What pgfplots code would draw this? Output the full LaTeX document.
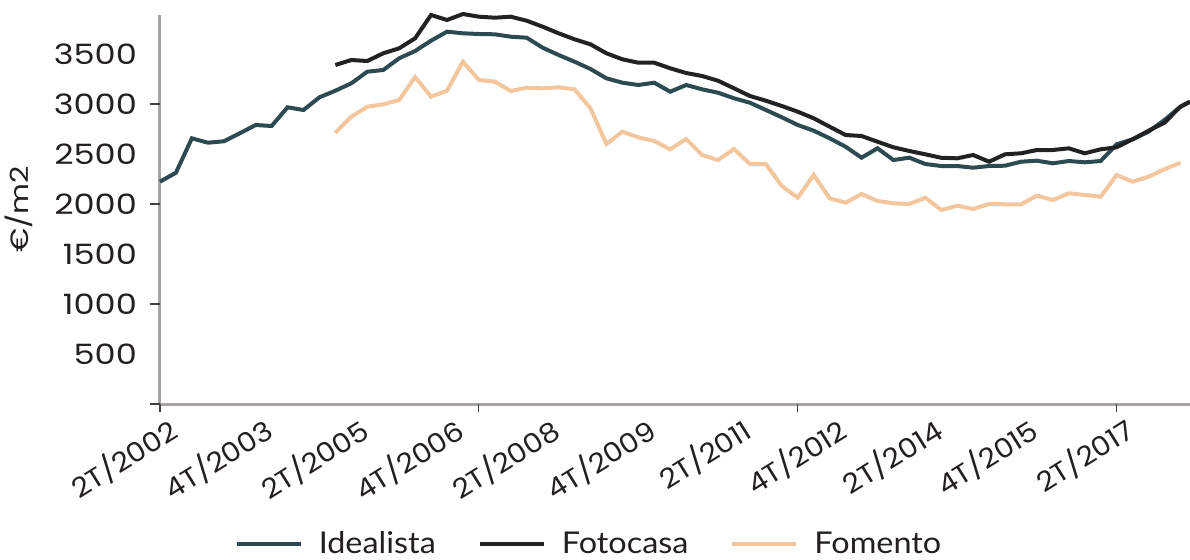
\documentclass[border=0pt]{standalone}
\usepackage{pgfplots}
\pgfplotsset{compat=1.18}
\usepackage{fontspec}
\setmainfont{Poppins}
\newfontfamily\tickfont[FakeStretch=1.2]{Poppins}
\newfontfamily\xtickfont[FakeStretch=1.1]{Poppins}
\newfontfamily\legfont[FakeStretch=1.08]{Lato}
\definecolor{ideal}{HTML}{2D4A52}
\definecolor{foto}{HTML}{222222}
\definecolor{fome}{HTML}{F3C69E}
\definecolor{axisgray}{HTML}{A8A4A2}
\definecolor{txt}{HTML}{231F20}
\begin{document}
\begin{tikzpicture}
\begin{axis}[
  scale only axis,
  width=515pt, height=194.5pt,
  xmin=0, xmax=64.6, ymin=0, ymax=3890,
  clip=false,
  axis x line=bottom, axis y line=left,
  axis line style={draw=axisgray, line width=1.5pt, -},
  tick align=outside,
  /pgf/number format/assume math mode=true,
  xtick={0,6,...,60},
  xticklabels={2T/2002,4T/2003,2T/2005,4T/2006,2T/2008,4T/2009,2T/2011,4T/2012,2T/2014,4T/2015,2T/2017},
  ytick={500,1000,...,3500},
  major tick length=0pt,
  ticklabel style={font=\tickfont\fontsize{14}{16}\selectfont, text=txt},
  yticklabel style={xshift=-8pt},
  x tick label style={rotate=32, anchor=north east, inner sep=1pt, yshift=-5pt, xshift=1pt, font=\xtickfont\fontsize{13.5}{15}\selectfont},
  /pgf/number format/1000 sep={},
  extra x ticks={0,20,40,60},
  extra x tick labels={},
  extra x tick style={major tick length=4pt, tick style={draw=black!75, line width=0.6pt}},
  extra y ticks={0,1000,2000,3000},
  extra y tick labels={},
  extra y tick style={major tick length=5pt, tick style={draw=black!75, line width=0.6pt}},
  ylabel={€/m2},
  ylabel style={at={(axis description cs:-0.137,0.5)}, anchor=center, font=\tickfont\fontsize{12.5}{14}\selectfont, text=txt},
  legend columns=3,
  legend style={draw=none, fill=none, at={(axis description cs:0.4175,-0.36)}, anchor=center,
    font=\legfont\fontsize{15}{17}\selectfont, text=txt,
    /tikz/every odd column/.append style={column sep=6pt},
    /tikz/every even column/.append style={column sep=19pt}},
  legend image code/.code={\draw[#1, line width=2pt] (0pt,0pt) -- (32pt,0pt);},
]
\addplot[ideal, line width=2pt] coordinates {
(0,2223)(1,2313)(2,2657)(3,2613)(4,2627)(5,2707)(6,2790)(7,2780)(8,2967)(9,2940)
(10,3067)(11,3133)(12,3207)(13,3323)(14,3340)(15,3457)(16,3530)(17,3633)(18,3723)(19,3707)
(20,3700)(21,3697)(22,3673)(23,3663)(24,3563)(25,3490)(26,3423)(27,3350)(28,3257)(29,3213)
(30,3190)(31,3213)(32,3123)(33,3190)(34,3147)(35,3113)(36,3057)(37,3013)(38,2940)(39,2867)
(40,2790)(41,2733)(42,2657)(43,2573)(44,2463)(45,2557)(46,2440)(47,2463)(48,2400)(49,2380)
(50,2380)(51,2363)(52,2380)(53,2383)(54,2423)(55,2433)(56,2407)(57,2430)(58,2417)(59,2430)
(60,2597)(61,2647)(62,2723)(63,2840)(64,2973)(64.6,3023)
};
\addlegendentry{Idealista}
\addplot[foto, line width=2pt] coordinates {
(11,3390)(12,3440)(13,3430)(14,3507)(15,3557)(16,3657)(17,3890)(18,3840)(19,3900)
(20,3873)(21,3863)(22,3873)(23,3833)(24,3773)(25,3707)(26,3647)(27,3597)(28,3507)(29,3447)
(30,3413)(31,3413)(32,3357)(33,3310)(34,3280)(35,3233)(36,3157)(37,3080)(38,3033)(39,2980)
(40,2923)(41,2857)(42,2773)(43,2690)(44,2680)(45,2623)(46,2567)(47,2530)(48,2497)(49,2462)
(50,2457)(51,2490)(52,2423)(53,2497)(54,2507)(55,2540)(56,2540)(57,2557)(58,2507)(59,2547)
(60,2567)(61,2647)(62,2733)(63,2813)(64,2973)(64.6,3023)
};
\addlegendentry{Fotocasa}
\addplot[fome, line width=2pt] coordinates {
(11,2713)(12,2873)(13,2973)(14,2997)(15,3040)(16,3270)(17,3073)(18,3133)(19,3423)
(20,3240)(21,3223)(22,3130)(23,3163)(24,3157)(25,3167)(26,3147)(27,2957)(28,2600)(29,2723)
(30,2667)(31,2630)(32,2547)(33,2650)(34,2490)(35,2440)(36,2550)(37,2400)(38,2400)(39,2180)
(40,2063)(41,2290)(42,2057)(43,2013)(44,2100)(45,2030)(46,2007)(47,2000)(48,2063)(49,1940)
(50,1983)(51,1950)(52,2000)(53,1997)(54,1997)(55,2083)(56,2040)(57,2107)(58,2090)(59,2073)
(60,2290)(61,2223)(62,2273)(63,2347)(64,2413)
};
\addlegendentry{Fomento}
\coordinate (ll) at (rel axis cs:0,0);
\coordinate (ur) at (rel axis cs:1,1);
\end{axis}
\pgfresetboundingbox
\path[use as bounding box] ([xshift=-80pt,yshift=-77.5pt]ll) rectangle ([yshift=7.5pt]ur);
\end{tikzpicture}
\end{document}
